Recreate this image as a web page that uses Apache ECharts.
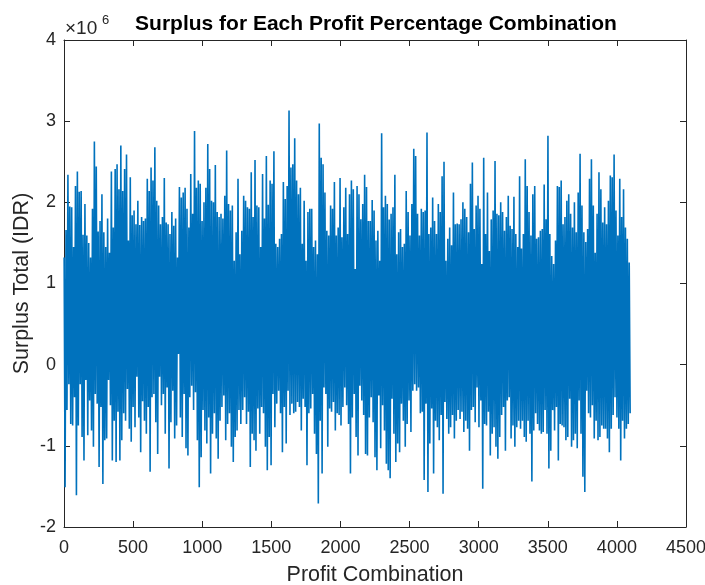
<!DOCTYPE html>
<html>
<head>
<meta charset="utf-8">
<script src="https://cdn.jsdelivr.net/npm/echarts@6/dist/echarts.min.js"></script>
<style>html,body{margin:0;padding:0;background:#fff;}#chart{width:705px;height:585px;}</style>
</head>
<body>
<div id="chart"></div>
<script>
// Surplus totals in millions of IDR.
// The 4096 combinations are summarised as alternating local highs and lows (300 each), left to right.
const combinationCount = 4096;
const surplusHigh = [
1.32,1.66,2.34,1.95,1.94,1.45,2.2,2.38,2.13,2.14,1.6,1.98,1.59,1.5,1.32,1.92,2.75,2.44,1.64,1.77,
2.1,1.63,1.45,1.8,1.38,2.38,1.69,2.41,2.47,2.16,2.70,2.14,2.41,2.59,1.53,2.31,1.84,1.9,1.73,2.02,
1.72,1.82,1.77,1.8,2.29,2.14,2.43,2.27,2.68,
2.02,1.96,1.73,1.82,2.3,1.75,1.73,1.61,1.88,1.71,1.8,1.32,2.19,2.06,2.12,2.18,1.92,1.69,2.35,1.86,
2.88,2.18,2.27,2.23,1.77,2.0,2.18,2.72,2.41,2.02,2.0,2.46,1.88,1.82,1.86,1.8,2.08,2.64,1.98,1.9,
1.96,1.28,1.63,2.29,1.36,1.65,2.08,2.02,1.94,1.92,2.37,
1.82,2.52,1.96,1.94,1.45,2.35,1.8,2.57,1.97,2.27,2.23,2.63,1.49,1.45,1.55,1.61,2.25,2.04,2.2,3.13,
2.43,2.47,2.79,2.27,2.1,2.18,1.49,2.02,1.28,1.88,1.92,1.92,1.45,1.53,1.36,2.97,2.55,2.47,2.12,1.65,
1.59,1.96,1.92,2.25,1.59,1.69,2.3,1.57,1.94,2.18,
1.61,2.1,2.27,2.16,1.18,2.2,2.1,1.79,1.98,2.34,2.19,1.77,1.77,2.03,1.9,1.53,1.65,1.28,2.85,1.94,
2.08,1.98,1.79,1.86,1.94,2.34,1.36,1.63,1.67,1.45,1.49,2.14,1.88,1.59,1.98,2.66,2.57,1.86,1.59,1.92,
1.88,1.9,2.86,1.61,1.69,2.06,1.77,1.61,1.98,1.88,
2.32,2.5,1.28,1.55,1.69,1.47,2.12,1.73,1.74,1.73,1.79,2.0,1.92,1.82,1.63,2.23,2.49,1.67,1.96,2.08,
1.92,1.24,2.55,1.61,2.12,1.4,1.79,1.9,2.51,1.86,1.84,2.0,1.88,1.65,1.82,2.08,1.71,1.67,2.07,1.61,
1.45,2.32,1.43,1.61,2.53,2.2,1.88,1.59,2.1,2.2,
1.55,1.57,1.65,1.67,2.22,1.79,2.82,1.61,1.34,1.24,1.53,2.2,2.19,2.27,1.73,1.82,2.02,2.1,1.86,1.69,
2.0,1.63,2.12,2.6,1.96,1.63,1.51,1.67,2.29,2.53,1.96,1.38,1.86,2.37,2.16,1.75,1.94,1.73,2.02,2.33,
2.31,2.59,1.9,1.59,2.29,1.82,2.16,1.69,1.55,1.26
];
const surplusLow = [
-1.51,-0.56,-0.24,-0.73,-0.75,-0.4,-1.61,-0.75,-0.24,-0.89,-1.18,-0.19,-0.87,-0.44,-0.81,-1.01,-0.36,-0.48,-1.26,-0.52,
-1.47,-0.93,-0.91,-0.19,-0.5,-1.18,-0.69,-1.2,-0.58,-1.18,-0.93,-0.6,-0.69,-0.3,-0.79,-0.95,-0.52,-0.77,-0.15,-0.65,
-1.08,-0.45,-0.69,-0.85,-0.52,-1.32,-0.4,-0.36,-0.71,
-1.1,-0.15,-0.5,-0.36,-0.85,-0.28,-1.28,-0.71,-0.32,-0.91,-0.75,0.13,-0.65,-0.89,-0.36,-1.03,-1.12,-0.4,-0.26,-0.56,
-0.34,-0.93,-1.51,-1.14,-0.56,-0.81,-0.97,-0.65,-1.34,-0.85,-0.6,-0.91,-1.16,-0.69,-0.52,-0.38,-0.93,-0.73,-0.6,-1.01,
-1.2,-0.89,-0.81,-0.56,-0.73,-0.56,-0.4,-0.73,-0.58,-1.26,-0.85,
-0.93,-1.06,-0.54,-0.85,-0.52,-0.6,-1.01,-1.3,-0.89,-1.24,-0.36,-0.77,-0.48,-0.32,-0.6,-1.08,-0.52,-0.97,-0.32,-0.62,
-0.48,-0.6,-0.58,-0.46,-0.52,-0.81,-0.42,-0.52,-1.24,-0.6,-0.54,-0.36,-0.85,-1.1,-1.71,-0.69,-1.34,-0.28,-0.36,-1.01,
-0.54,-0.58,-0.46,-0.81,-0.6,-0.62,-0.75,-0.52,-0.28,-0.5,
-0.73,-1.34,-0.65,-0.36,-0.89,-1.12,-0.26,-0.44,-0.62,-1.1,-1.12,-0.65,-0.4,-0.71,-1.14,-1.3,-0.38,-1.03,-0.5,-0.81,
-1.22,-1.3,-1.4,-0.42,-0.85,-1.2,-0.97,-1.08,-0.48,-0.69,-1.01,-0.73,-0.44,-0.83,-0.32,-0.24,-0.32,-0.28,-0.6,-0.58,
-1.42,-0.48,-1.57,-0.97,-0.54,-1.34,-0.69,-0.77,-0.93,-0.62,
-1.59,-0.46,-0.67,-0.85,-0.77,-0.62,-0.91,-0.69,-0.56,-0.67,-0.58,-0.83,-0.69,-0.79,-1.06,-0.56,-0.52,-0.71,-0.28,-0.77,
-0.44,-1.53,-0.73,-0.75,-0.58,-1.12,-0.85,-0.77,-1.01,-1.16,-0.89,-0.62,-0.52,-1.06,-0.44,-0.4,-0.91,-0.75,-1.01,-0.77,
-0.69,-0.79,-0.69,-0.89,-0.95,-0.69,-0.85,-1.44,-0.81,-0.6,
-0.73,-0.81,-0.85,-0.83,-0.56,-0.85,-1.28,-1.06,-0.56,-0.81,-0.52,-1.18,-0.73,-0.75,-0.77,-0.93,-0.89,-0.42,-1.01,-0.93,
-0.85,-1.03,-0.44,-0.85,-1.38,-1.57,-0.32,-0.6,-0.65,-0.5,-0.91,-0.69,-0.93,-0.89,-0.75,-0.79,-0.79,-0.91,-1.08,-0.79,
-0.62,-0.4,-0.65,-0.79,-1.18,-0.69,-0.91,-0.79,-0.73,-0.6
];
const xTicks = {min: 0, max: 4500, step: 500};
const yTicks = {min: -2e6, max: 4e6, step: 1e6};

const nPts = surplusHigh.length + surplusLow.length;
const seriesData = [];
for (let j = 0; j < surplusHigh.length; j++) {
  const kH = 2 * j, kL = 2 * j + 1;
  seriesData.push([1 + kH * (combinationCount - 1) / (nPts - 1), surplusHigh[j] * 1e6]);
  seriesData.push([1 + kL * (combinationCount - 1) / (nPts - 1), surplusLow[j] * 1e6]);
}

const axisColor = '#262626';
const font = 'Liberation Sans, Arial, Helvetica, sans-serif';
const baseAxis = {
  nameMoveOverlap: false,
  axisLine: {show: true, onZero: false, lineStyle: {color: axisColor, width: 1}},
  axisTick: {show: true, inside: true, length: 6, lineStyle: {color: axisColor, width: 1}},
  splitLine: {show: false}
};

const chart = echarts.init(document.getElementById('chart'), null, {renderer: 'canvas'});
chart.setOption({
  animation: false,
  backgroundColor: '#ffffff',
  title: {
    text: 'Surplus for Each Profit Percentage Combination',
    left: 371, top: 9, textAlign: 'center',
    textStyle: {fontFamily: font, fontSize: 21, fontWeight: 'bold', color: '#000000'}
  },
  grid: {left: 64, right: 19, top: 40, bottom: 58, containLabel: false, outerBoundsMode: 'none'},
  xAxis: [
    Object.assign({}, baseAxis, {
      type: 'value', position: 'bottom', min: xTicks.min, max: xTicks.max, interval: xTicks.step,
      axisLabel: {color: axisColor, fontFamily: font, fontSize: 18, margin: 12, formatter: v => String(v)},
      name: 'Profit Combination', nameLocation: 'middle', nameGap: 37,
      nameTextStyle: {color: axisColor, fontFamily: font, fontSize: 21.5}
    }),
    Object.assign({}, baseAxis, {
      type: 'value', position: 'top', min: xTicks.min, max: xTicks.max, interval: xTicks.step,
      axisLabel: {show: false}
    })
  ],
  yAxis: [
    Object.assign({}, baseAxis, {
      type: 'value', position: 'left', min: yTicks.min, max: yTicks.max, interval: yTicks.step,
      axisLabel: {color: axisColor, fontFamily: font, fontSize: 18, margin: 8, formatter: v => String(Math.round(v / 1e6))},
      name: 'Surplus Total (IDR)', nameLocation: 'middle', nameGap: 31,
      nameTextStyle: {color: axisColor, fontFamily: font, fontSize: 21.5}
    }),
    Object.assign({}, baseAxis, {
      type: 'value', position: 'right', min: yTicks.min, max: yTicks.max, interval: yTicks.step,
      axisLabel: {show: false}
    })
  ],
  graphic: [
    {type: 'text', x: 65, y: 29, style: {text: '×10', fontFamily: font, fontSize: 19, fill: axisColor, align: 'left', verticalAlign: 'middle'}},
    {type: 'text', x: 102, y: 20, style: {text: '6', fontFamily: font, fontSize: 13, fill: axisColor, align: 'left', verticalAlign: 'middle'}}
  ],
  series: [{
    type: 'line', xAxisIndex: 0, yAxisIndex: 0,
    data: seriesData, showSymbol: false, symbol: 'none', sampling: null,
    lineStyle: {color: '#0072BD', width: 1.6}, clip: true
  }]
});
</script>
</body>
</html>
